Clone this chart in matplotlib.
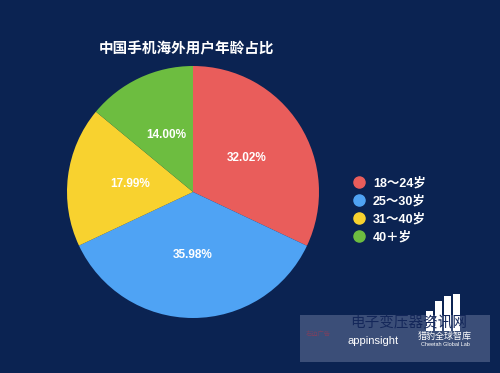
import matplotlib
matplotlib.use('Agg')
import matplotlib.pyplot as plt
from matplotlib.lines import Line2D
from matplotlib.patches import Rectangle

plt.rcParams['font.family'] = ['Liberation Sans', 'Noto Sans CJK SC', 'DejaVu Sans']

title = '中国手机海外用户年龄占比'
groups = ['18～24岁', '25～30岁', '31～40岁', '40＋岁']
shares = [32.02, 35.98, 17.99, 14.00]
colors = ['#e95d5b', '#4fa3f4', '#f8d22f', '#6dbd40']
bg = '#0b2352'

W, H = 500, 373
fig = plt.figure(figsize=(W / 100, H / 100), dpi=100, facecolor=bg)

# pie: center ~ (193, 192) px, radius ~126 px
cx, cy, r = 193, 192, 126
ax = fig.add_axes([(cx - r) / W, (H - cy - r) / H, 2 * r / W, 2 * r / H])
ax.set_facecolor(bg)
wedges, _, autotexts = ax.pie(shares, colors=colors, startangle=90, counterclock=False,
                              radius=1, autopct='%.2f%%', pctdistance=0.5,
                              wedgeprops=dict(linewidth=0))
for t in autotexts:
    t.set_color('white')
    t.set_fontsize(8.5)
    t.set_fontweight('bold')
ax.set_xlim(-1, 1)
ax.set_ylim(-1, 1)
ax.axis('off')

fig.text(187 / W, 1 - 48 / H, title, color='white', fontsize=10.5, fontweight='bold',
         ha='center', va='center', family=['Noto Sans CJK SC', 'DejaVu Sans'])

handles = [Line2D([], [], marker='o', linestyle='', markersize=8, markerfacecolor=c,
                  markeredgecolor=c) for c in colors]
leg = fig.legend(handles, groups, loc='upper left', bbox_to_anchor=(354 / W, 1 - 177 / H),
                 frameon=False, handlelength=0.8, handletextpad=0.7, labelspacing=0.45,
                 borderpad=0, borderaxespad=0,
                 prop={'family': ['Liberation Sans', 'Noto Sans CJK SC'], 'weight': 'bold', 'size': 9})
for t in leg.get_texts():
    t.set_color('white')

# watermark overlay bottom right
fig.patches.append(Rectangle((300 / W, 1 - 362 / H), 190 / W, 47 / H, transform=fig.transFigure,
                             facecolor='#3b4e78', edgecolor='none', zorder=5))
# bar logo
for bx, top in [(426, 311), (435, 301), (444, 296), (453, 294)]:
    fig.patches.append(Rectangle((bx / W, 1 - 331 / H), 7 / W, (331 - top) / H,
                                 transform=fig.transFigure, facecolor='white',
                                 edgecolor='none', zorder=6))
fig.text(409 / W, 1 - 323 / H, '电子变压器资讯网', color='#14275a', fontsize=10.5, ha='center',
         va='center', family=['Noto Sans CJK SC'], zorder=6)
fig.text(318 / W, 1 - 335 / H, '右边广告', color='#7a4060', fontsize=4.5, ha='center', va='center',
         family=['Noto Sans CJK SC'], zorder=6)
fig.text(373 / W, 1 - 341 / H, 'appinsight', color='white', fontsize=8, ha='center', va='center', zorder=7)
fig.text(445 / W, 1 - 336 / H, '猎豹全球智库', color='white', fontsize=6.5, ha='center', va='center',
         family=['Noto Sans CJK SC'], zorder=7)
fig.text(445 / W, 1 - 345 / H, 'Cheetah Global Lab', color='white', fontsize=4, ha='center',
         va='center', zorder=7)

fig.savefig('out.png', dpi=100, facecolor=bg)
